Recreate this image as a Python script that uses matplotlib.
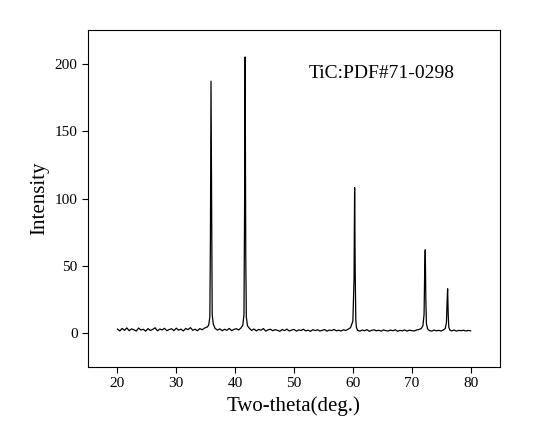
"""Recreate the TiC XRD pattern plot."""

import matplotlib

matplotlib.use("Agg")

import matplotlib.pyplot as plt  # noqa: E402


# two-theta (deg) and intensity
two_theta = [
    20.0, 20.4, 20.8, 21.2, 21.6, 22.0, 22.4, 22.8, 23.2, 23.6, 24.0, 24.4, 24.8,
    25.2, 25.6, 26.0, 26.4, 26.8, 27.2, 27.6, 28.0, 28.4, 28.8, 29.2, 29.6, 30.0,
    30.4, 30.8, 31.2, 31.6, 32.0, 32.4, 32.8, 33.2, 33.6, 34.0, 34.4, 34.8, 35.2,
    35.5, 35.7, 35.8, 35.9, 36.0, 36.1, 36.3, 36.6, 37.0, 37.4, 37.8, 38.2, 38.6,
    39.0, 39.4, 39.8, 40.2, 40.6, 41.0, 41.3, 41.5, 41.6, 41.7, 41.8, 41.9, 42.1,
    42.4, 42.8, 43.2, 43.6, 44.0, 44.4, 44.8, 45.2, 45.6, 46.0, 46.4, 46.8, 47.2,
    47.6, 48.0, 48.4, 48.8, 49.2, 49.6, 50.0, 50.4, 50.8, 51.2, 51.6, 52.0, 52.4,
    52.8, 53.2, 53.6, 54.0, 54.4, 54.8, 55.2, 55.6, 56.0, 56.4, 56.8, 57.2, 57.6,
    58.0, 58.4, 58.8, 59.2, 59.6, 60.0, 60.2, 60.3, 60.4, 60.5, 60.6, 60.8, 61.2,
    61.6, 62.0, 62.4, 62.8, 63.2, 63.6, 64.0, 64.4, 64.8, 65.2, 65.6, 66.0, 66.4,
    66.8, 67.2, 67.6, 68.0, 68.4, 68.8, 69.2, 69.6, 70.0, 70.4, 70.8, 71.2, 71.6,
    71.9, 72.1, 72.2, 72.3, 72.4, 72.5, 72.7, 73.0, 73.4, 73.8, 74.2, 74.6, 75.0,
    75.4, 75.7, 75.9, 76.0, 76.1, 76.2, 76.3, 76.5, 76.8, 77.2, 77.6, 78.0, 78.4,
    78.8, 79.2, 79.6, 80.0,
]
intensity = [
    3.1, 1.8, 3.6, 2.2, 4.0, 1.9, 3.3, 2.6, 1.7, 3.9, 2.4, 3.0, 1.6,
    3.5, 2.1, 2.9, 4.1, 1.8, 3.2, 2.5, 3.7, 1.9, 2.8, 3.4, 2.0, 3.8,
    2.3, 3.1, 1.7, 3.6, 2.7, 4.2, 2.2, 3.0, 1.9, 3.5, 2.6, 3.9, 4.5,
    6.0, 12.0, 70.0, 187.0, 95.0, 14.0, 6.5, 3.6, 2.4, 3.3, 1.9, 3.0, 2.2,
    3.6, 2.0, 2.9, 3.4, 2.5, 4.0, 6.0, 14.0, 90.0, 205.0, 60.0, 12.0, 5.5,
    3.8, 2.1, 3.2, 1.8, 2.9, 2.3, 3.5, 1.6, 2.6, 3.0, 1.9, 2.7, 2.2,
    1.5, 2.8, 2.0, 3.1, 1.7, 2.4, 2.9, 1.6, 2.5, 2.1, 3.0, 1.8, 2.3,
    1.5, 2.7, 2.0, 2.6, 1.7, 2.2, 2.8, 1.6, 2.4, 2.0, 2.9, 1.8, 2.3,
    1.7, 2.6, 2.1, 3.0, 4.2, 9.0, 40.0, 108.0, 45.0, 10.0, 4.5, 2.2, 1.6,
    2.4, 1.9, 2.7, 1.5, 2.2, 2.6, 1.8, 2.3, 1.6, 2.5, 2.0, 1.7, 2.4,
    1.9, 2.6, 1.5, 2.2, 1.8, 2.5, 1.6, 2.3, 2.0, 1.7, 2.4, 2.8, 3.5,
    5.5, 14.0, 45.0, 62.0, 25.0, 7.0, 3.2, 2.1, 1.6, 2.4, 1.8, 2.2, 1.7,
    2.5, 3.6, 8.0, 22.0, 33.0, 14.0, 4.5, 2.3, 1.8, 2.4, 1.6, 2.2, 1.9,
    2.3, 1.7, 2.1, 1.9,
]

label = "TiC:PDF#71-0298"


def main() -> None:
    plt.rcParams["font.family"] = ["Liberation Serif", "DejaVu Serif"]

    fig = plt.figure(figsize=(5.56, 4.25), dpi=100)
    ax = fig.add_axes([88 / 556, 1 - 367 / 425, 412 / 556, 337 / 425])
    ax.plot(two_theta, intensity, color="black", linewidth=0.9)

    ax.set_xlim(15, 85)
    ax.set_ylim(-25, 225)
    ax.set_xticks(range(20, 81, 10))
    ax.set_yticks(range(0, 201, 50))
    ax.tick_params(labelsize=11, direction="out", length=4)
    ax.set_xlabel("Two-theta(deg.)", fontsize=15)
    ax.set_ylabel("Intensity", fontsize=15)
    ax.text(52.5, 193, label, fontsize=14, va="center")

    fig.savefig("out.png", dpi=100)
    plt.close(fig)


if __name__ == "__main__":
    main()
